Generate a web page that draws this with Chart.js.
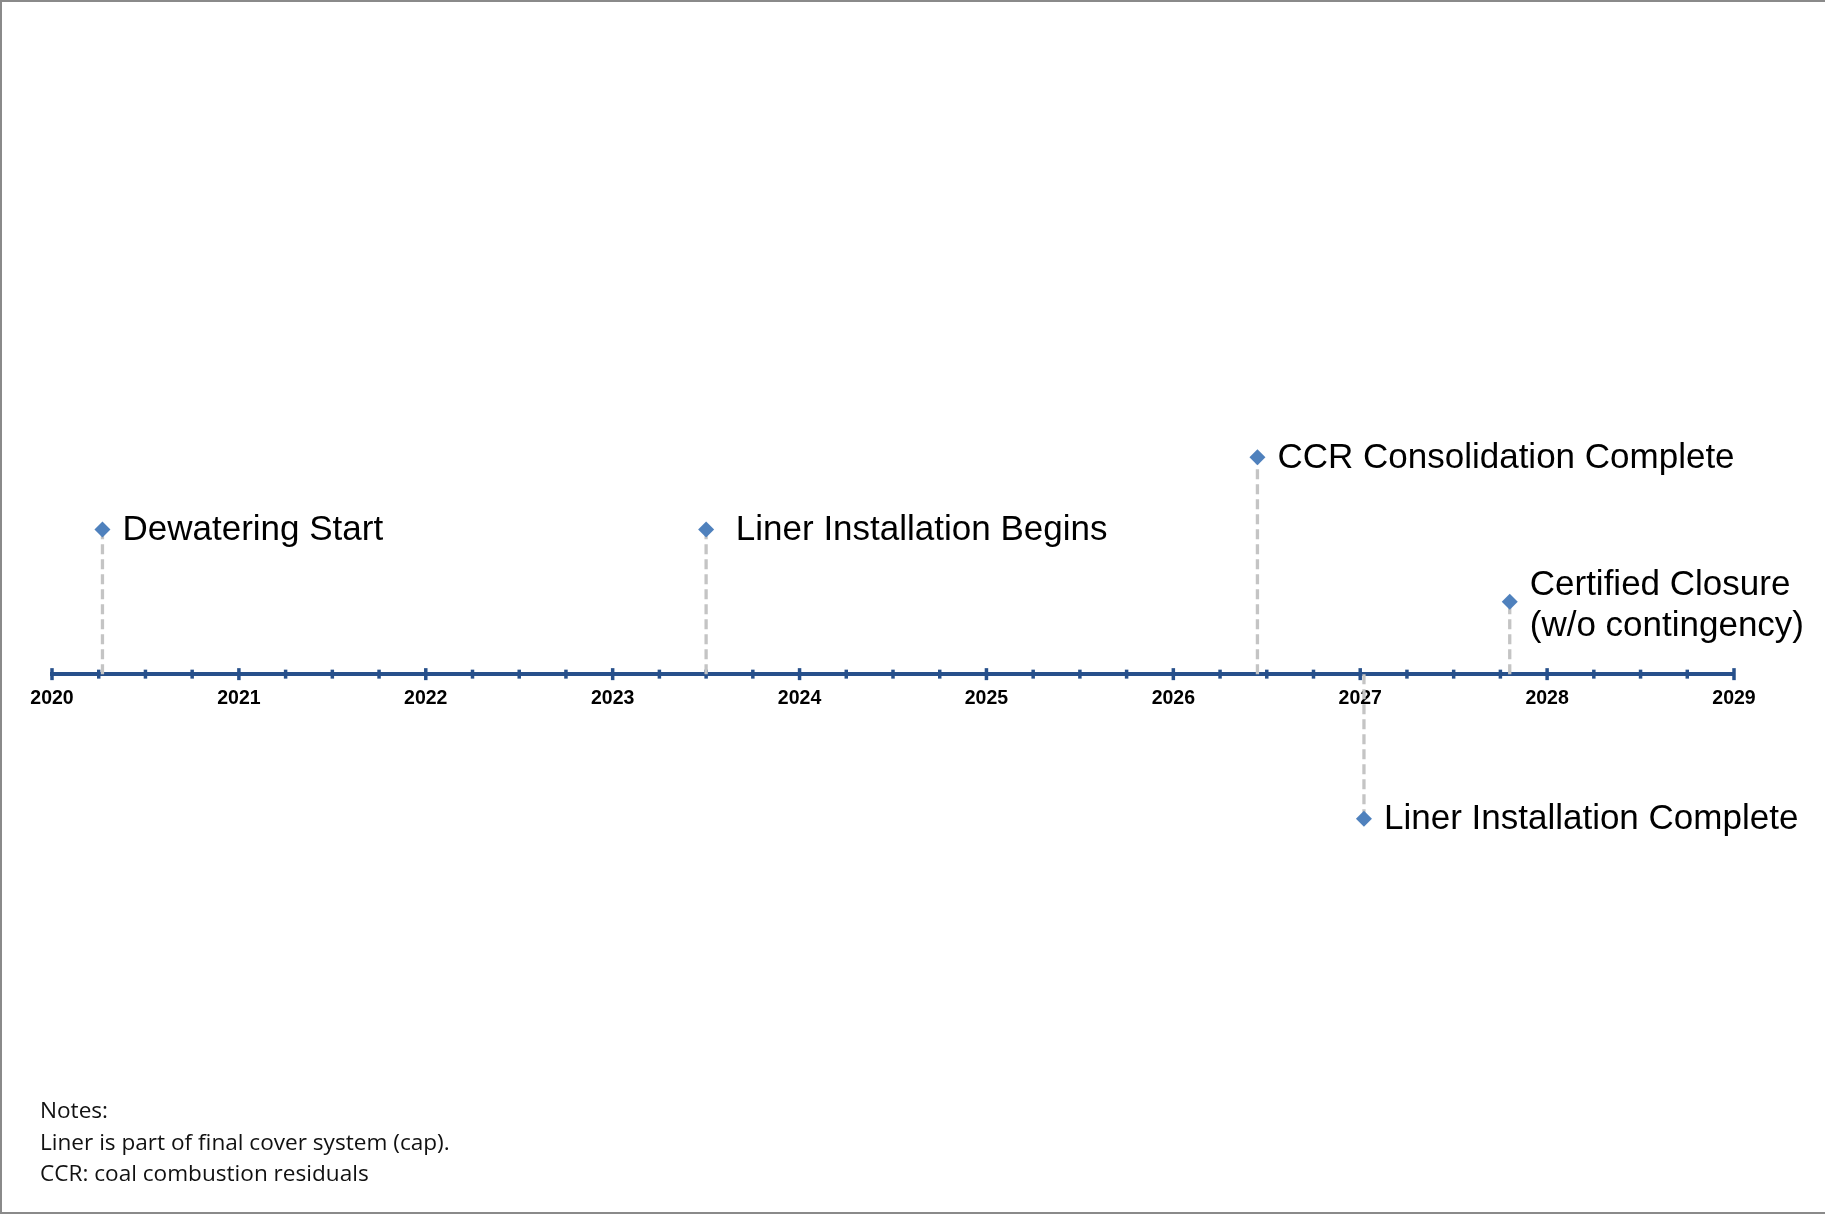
<!DOCTYPE html>
<html>
<head>
<meta charset="utf-8">
<script src="https://cdn.jsdelivr.net/npm/chart.js@4.4.1/dist/chart.umd.min.js"></script>
<style>
  html, body { margin: 0; padding: 0; background: #ffffff; }
  #wrap { position: relative; width: 1825px; height: 1214px; overflow: hidden; background: #ffffff; }
  #timeline { position: absolute; left: 0; top: 0; }
  #frame { position: absolute; left: 0; top: 0; width: 1825px; height: 1214px; box-sizing: border-box;
           border-top: 2px solid #8a8a8a; border-left: 2px solid #8a8a8a; border-bottom: 2px solid #8a8a8a; pointer-events: none; }
  #notes { position: absolute; left: 40px; top: 1094px; font-family: "Open Sans", "Noto Sans", sans-serif;
           font-size: 22.6px; line-height: 31.7px; color: #111111; }
</style>
</head>
<body>
<div id="wrap">
  <canvas id="timeline" width="1825" height="1214"></canvas>
  <div id="frame"></div>
  <div id="notes">
    <div>Notes:</div>
    <div>Liner is part of final cover system (cap).</div>
    <div>CCR: coal combustion residuals</div>
  </div>
</div>
<script>
// Milestones (decimal years), their stem heights above/below the axis, and captions
const eventDates  = [2020.27, 2023.5, 2026.45, 2027.02, 2027.8];
const eventLevels = [2, 2, 3, -2, 1];
const eventLabels = [
  ['Dewatering Start'],
  [' Liner Installation Begins'],
  ['CCR Consolidation Complete'],
  ['Liner Installation Complete'],
  ['Certified Closure', '(w/o contingency)']
];

// Axis range and year tick labels
const axisStart = 2020;
const axisEnd = 2029;
const yearLabels = ['2020', '2021', '2022', '2023', '2024', '2025', '2026', '2027', '2028', '2029'];

const AXIS_COLOR = '#27508b';
const MARKER_COLOR = '#4f81bd';
const STEM_COLOR = '#c4c4c4';

// Dashed stems: a two-point segment per milestone, broken by a gap point
const stemPoints = [];
eventDates.forEach((d, i) => {
  stemPoints.push({ x: d, y: 0 });
  stemPoints.push({ x: d, y: eventLevels[i] });
  stemPoints.push({ x: d, y: null });
});
const markerPoints = eventDates.map((d, i) => ({ x: d, y: eventLevels[i] }));

// Crossing tick marks on the timeline (quarters small, years larger)
const crossTicks = {
  id: 'crossTicks',
  beforeDatasetsDraw(chart) {
    const xs = chart.scales.x, ys = chart.scales.y;
    const y0 = ys.getPixelForValue(0);
    const ctx = chart.ctx;
    ctx.save();
    ctx.strokeStyle = AXIS_COLOR;
    ctx.lineWidth = 3.5;
    xs.ticks.forEach(t => {
      const px = xs.getPixelForValue(t.value);
      const major = Math.abs(t.value - Math.round(t.value)) < 1e-6;
      const h = major ? 6 : 4.5;
      ctx.beginPath();
      ctx.moveTo(px, y0 - h);
      ctx.lineTo(px, y0 + h);
      ctx.stroke();
    });
    ctx.restore();
  }
};

// Captions to the right of each milestone marker
const milestoneCaptions = {
  id: 'milestoneCaptions',
  afterDatasetsDraw(chart) {
    const meta = chart.getDatasetMeta(1);
    const ctx = chart.ctx;
    ctx.save();
    ctx.font = '35px "Liberation Sans", Arial, sans-serif';
    ctx.fillStyle = '#000000';
    ctx.textAlign = 'left';
    ctx.textBaseline = 'middle';
    const lineH = 41;
    meta.data.forEach((pt, i) => {
      const lines = eventLabels[i];
      const startY = pt.y - (lines.length - 1) * lineH / 2 + (lines.length > 1 ? 4 : 1);
      lines.forEach((txt, k) => {
        ctx.fillText(txt, pt.x + 20, startY + k * lineH);
      });
    });
    ctx.restore();
  }
};

new Chart(document.getElementById('timeline'), {
  type: 'scatter',
  data: {
    datasets: [
      {
        type: 'line',
        data: stemPoints,
        borderColor: STEM_COLOR,
        borderWidth: 3.3,
        borderDash: [10, 5],
        pointRadius: 0,
        spanGaps: false,
        fill: false,
        order: 2
      },
      {
        data: markerPoints,
        pointStyle: 'rectRot',
        pointRadius: 8,
        pointBackgroundColor: MARKER_COLOR,
        pointBorderColor: MARKER_COLOR,
        pointBorderWidth: 0,
        order: 1
      }
    ]
  },
  options: {
    responsive: false,
    animation: false,
    devicePixelRatio: 1,
    layout: { padding: { left: 52, right: 91, top: 385, bottom: 323 } },
    plugins: { legend: { display: false }, tooltip: { enabled: false } },
    scales: {
      x: {
        type: 'linear',
        min: axisStart,
        max: axisEnd,
        position: { y: 0 },
        border: { display: true, color: AXIS_COLOR, width: 4 },
        grid: { display: true, drawOnChartArea: false, drawTicks: false, color: 'rgba(0,0,0,0)' },
        ticks: {
          stepSize: 0.25,
          autoSkip: false,
          maxRotation: 0,
          padding: 13,
          color: '#000000',
          font: { family: '"Liberation Sans", Arial, sans-serif', size: 19.5, weight: 'bold' },
          callback: (value) => {
            const r = Math.round(value);
            return Math.abs(value - r) < 1e-6 ? yearLabels[r - axisStart] : '';
          }
        }
      },
      y: {
        type: 'linear',
        min: -3,
        max: 4,
        display: false
      }
    }
  },
  plugins: [crossTicks, milestoneCaptions]
});
</script>
</body>
</html>
